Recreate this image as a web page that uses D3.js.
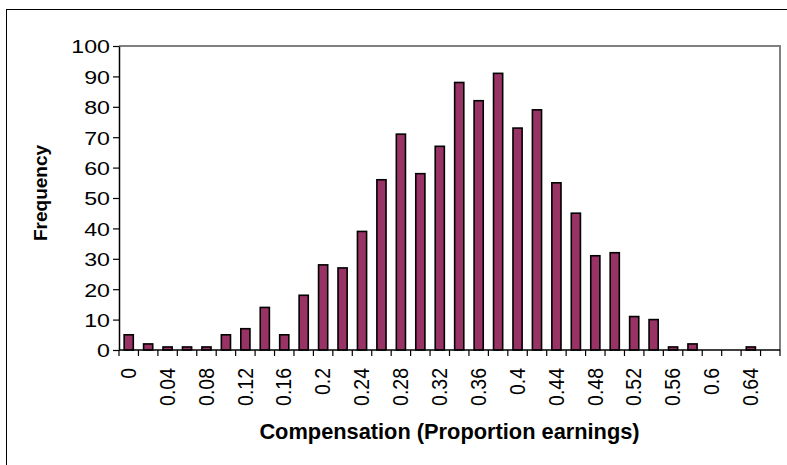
<!DOCTYPE html>
<html>
<head>
<meta charset="utf-8">
<script src="https://cdn.jsdelivr.net/npm/d3@7"></script>
<style>
  html, body { margin: 0; padding: 0; background: #fff; }
  svg { display: block; font-family: Arial, "Liberation Sans", sans-serif; }
</style>
</head>
<body>
<svg id="chart" width="787" height="465"></svg>
<script>
// Histogram bins (compensation as proportion of earnings)
const categories = ["0","0.02","0.04","0.06","0.08","0.1","0.12","0.14","0.16","0.18",
  "0.2","0.22","0.24","0.26","0.28","0.3","0.32","0.34","0.36","0.38",
  "0.4","0.42","0.44","0.46","0.48","0.5","0.52","0.54","0.56","0.58",
  "0.6","0.62","0.64","0.66"];
const frequency = [5,2,1,1,1,5,7,14,5,18,
  28,27,39,56,71,58,67,88,82,91,
  73,79,55,45,31,32,11,10,1,2,
  0,0,1,0];
const yTicks = [0,10,20,30,40,50,60,70,80,90,100];
const xTitle = "Compensation (Proportion earnings)";
const yTitle = "Frequency";

const svg = d3.select("#chart");
const plot = { left: 119, right: 780, top: 46, bottom: 350 };

// outer frame
svg.append("rect")
  .attr("x", 6.5).attr("y", 9.5)
  .attr("width", 800).attr("height", 480)
  .attr("fill", "none").attr("stroke", "#000").attr("stroke-width", 1);

const x = d3.scaleBand().domain(categories).range([plot.left, plot.right]).padding(0);
const y = d3.scaleLinear().domain([0, 100]).range([plot.bottom, plot.top]);

// plot area border (top and right)
svg.append("path")
  .attr("d", `M${plot.left},${plot.top}H${plot.right}V${plot.bottom}`)
  .attr("fill", "none").attr("stroke", "#808080").attr("stroke-width", 2);

// bars
const barW = x.bandwidth() * 0.47;
svg.append("g").selectAll("rect").data(frequency).join("rect")
  .attr("x", (d, i) => x(categories[i]) + (x.bandwidth() - barW) / 2)
  .attr("y", d => y(d))
  .attr("width", barW)
  .attr("height", d => y(0) - y(d))
  .attr("fill", "#993366")
  .attr("stroke", "#000")
  .attr("stroke-width", 1.6)
  .style("display", d => d > 0 ? null : "none");

// y axis
const yAxis = svg.append("g")
  .attr("transform", `translate(${plot.left},0)`)
  .call(d3.axisLeft(y).tickValues(yTicks).tickSize(6).tickPadding(3).tickSizeOuter(0));
yAxis.select(".domain").attr("stroke", "#000").attr("stroke-width", 1.5);
yAxis.selectAll(".tick line").attr("stroke", "#000").attr("stroke-width", 1.2);
// wide numerals: stretch horizontally about the right edge
yAxis.selectAll(".tick text")
  .attr("x", null).attr("dy", null)
  .attr("transform", "translate(-9,6.8) scale(1.22,1)")
  .attr("font-size", 19).attr("fill", "#000")
  .attr("font-family", "Arial, 'Liberation Sans', sans-serif");

// x axis: ticks at category boundaries, labels on every other bin
const xAxisG = svg.append("g").attr("transform", `translate(0,${plot.bottom})`);
xAxisG.append("line")
  .attr("x1", plot.left).attr("x2", plot.right)
  .attr("stroke", "#000").attr("stroke-width", 1.5);
const bounds = d3.range(categories.length + 1).map(i => plot.left + i * x.step());
xAxisG.selectAll("line.tk").data(bounds).join("line")
  .attr("class", "tk")
  .attr("x1", d => d).attr("x2", d => d).attr("y1", 0).attr("y2", 6)
  .attr("stroke", "#000").attr("stroke-width", 1.2);
xAxisG.selectAll("text").data(categories.filter((c, i) => i % 2 === 0 && i < 33)).join("text")
  .attr("transform", d => `translate(${x(d) + x.bandwidth() / 2 + 7.2},18) rotate(-90) scale(1,1.15)`)
  .attr("text-anchor", "end")
  .attr("font-size", 19.5)
  .attr("fill", "#000")
  .text(d => d);

// axis titles
svg.append("text")
  .attr("x", (plot.left + plot.right) / 2).attr("y", 439)
  .attr("text-anchor", "middle")
  .attr("font-size", 21.8).attr("font-weight", "bold")
  .text(xTitle);
svg.append("text")
  .attr("transform", `translate(47,193) rotate(-90)`)
  .attr("text-anchor", "middle")
  .attr("font-size", 19).attr("font-weight", "bold")
  .text(yTitle);
</script>
</body>
</html>
